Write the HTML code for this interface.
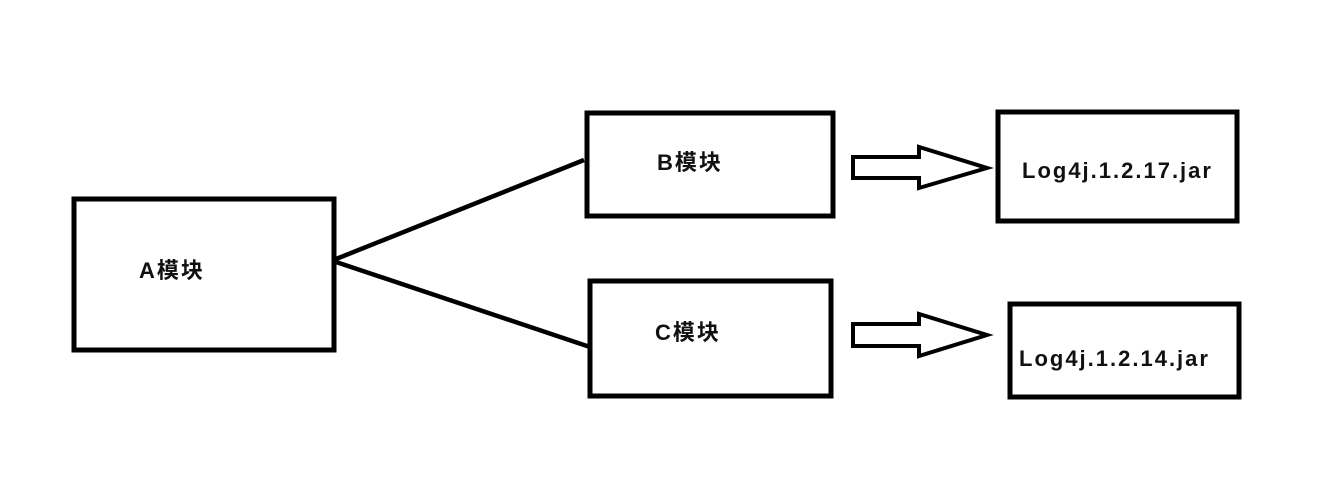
<!DOCTYPE html>
<html><head><meta charset="utf-8"><style>
html,body{margin:0;padding:0;background:#fff;}
svg{display:block}
text{font-family:"Liberation Sans","Noto Sans CJK SC",sans-serif;font-weight:bold;font-size:22px;letter-spacing:2px;fill:#111}
</style></head><body>
<svg width="1342" height="502" viewBox="0 0 1342 502">
<g fill="none" stroke="#000" stroke-width="5">
<rect x="74" y="199" width="260" height="151"/>
<rect x="587" y="113" width="246" height="103"/>
<rect x="590" y="281" width="241" height="115"/>
<rect x="998" y="112" width="239" height="109"/>
<rect x="1010" y="304" width="229" height="93"/>
</g>
<g stroke="#000" stroke-width="4.5" fill="none">
<line x1="336" y1="259" x2="584" y2="160"/>
<line x1="336" y1="262" x2="590" y2="347"/>
</g>
<g fill="#fff" stroke="#000" stroke-width="4" stroke-linejoin="miter">
<polygon points="853,157 919,157 919,147 987,168 919,188 919,178 853,178"/>
<polygon points="853,324 919,324 919,314 987,335 919,356 919,346 853,346"/>
</g>
<text x="139" y="278">A模块</text>
<text x="657" y="170">B模块</text>
<text x="655" y="340">C模块</text>
<text x="1022" y="178">Log4j.1.2.17.jar</text>
<text x="1019" y="366">Log4j.1.2.14.jar</text>
</svg>
</body></html>
